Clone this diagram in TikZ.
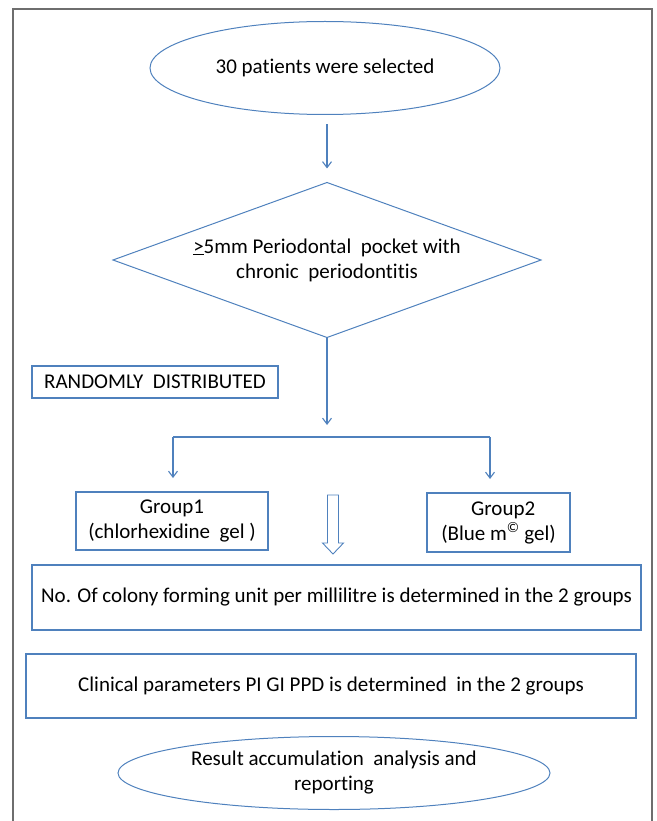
\documentclass[tikz,border=0pt]{standalone}
\usepackage{fontspec}
\setmainfont[Ligatures={NoCommon}]{Carlito}
\usetikzlibrary{shapes.geometric,arrows.meta}
\definecolor{officeblue}{HTML}{4F81BD}
\definecolor{framegray}{HTML}{6E6E6E}
\begin{document}
\begin{tikzpicture}[
    x=1pt, y=-1pt,
    font=\fontsize{21}{25}\selectfont,
    every node/.style={inner sep=0pt, outer sep=0pt, align=center},
    oval/.style={ellipse, draw=officeblue, line width=1pt},
    decision/.style={diamond, draw=officeblue, line width=1pt, aspect=2.76},
    stepbox/.style={rectangle, draw=officeblue, line width=1.1pt},
    flow/.style={officeblue, line width=1.1pt},
    flowarrow/.style={flow, -{Straight Barb[length=6pt,width=9pt]}}
    ]
	\useasboundingbox (0,0) rectangle (656,821);
	\draw[framegray, line width=1.2pt] (13,830) -- (13,9) -- (652,9) -- (652,830);

	\node [oval, minimum width=350, minimum height=93] (start) at (325,68) {30 patients were selected};
	\node [decision, minimum width=428, minimum height=155] (pocket) at (327,260)
		{\underline{>}5mm Periodontal\ \ pocket with\\chronic\ \ periodontitis};
	\node [stepbox, minimum width=246, minimum height=32] (random) at (155,382) {RANDOMLY\ \ DISTRIBUTED};
	\node [stepbox, minimum width=192, minimum height=58] (group1) at (172,521) {Group1\\(chlorhexidine\ \ gel )};
	\node [stepbox, minimum width=143, minimum height=59] (group2) at (498.5,522.5) {\ \ Group2\\(Blue m\textsuperscript{\textcopyright} gel)};
	\node [stepbox, minimum width=609, minimum height=65] (cfu) at (336.5,597.5)
		{No. Of colony forming unit per millilitre is determined in the 2 groups};
	\node [stepbox, minimum width=610, minimum height=64] (clinical) at (331,686)
		{Clinical parameters PI GI PPD is determined\ \ in the 2 groups};
	\node [oval, minimum width=432, minimum height=73] (result) at (334,773)
		{Result accumulation\ \ analysis and\\reporting};

	\coordinate (split) at (327,425);
	\coordinate (forkl) at (173,437);
	\coordinate (forkr) at (490,437);
	\coordinate (hollow) at (333,495);

	\draw [flowarrow, shorten <=10pt, shorten >=14pt] (start.south -| pocket.north) -- (pocket.north);
	\draw [flowarrow] (pocket.south) -- (split);
	\draw [flow] (forkl) -- (forkr);
	\draw [flowarrow, shorten >=14pt] (forkl) -- (forkl |- group1.north);
	\draw [flowarrow, shorten >=14pt] (forkr) -- (forkr |- group2.north);
	\draw [officeblue, line width=0.9pt, line join=miter] (hollow) ++(-5.5,0) -- ++(0,48) -- ++(-5,0)
		-- ++(10.5,11) -- ++(10.5,-11) -- ++(-5,0) -- ++(0,-48) -- cycle;
\end{tikzpicture}
\end{document}
